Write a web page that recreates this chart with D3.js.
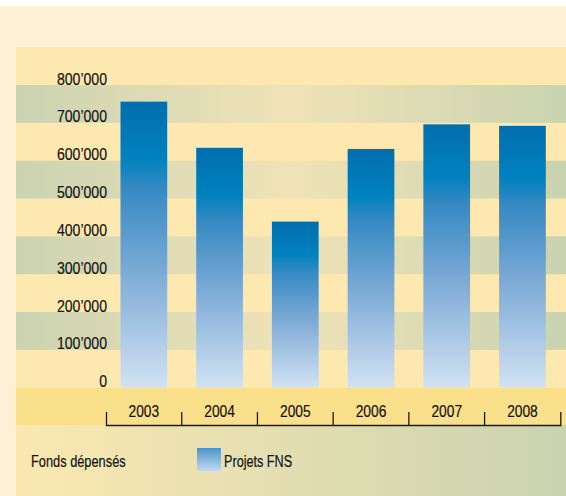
<!DOCTYPE html>
<html>
<head>
<meta charset="utf-8">
<script src="https://cdn.jsdelivr.net/npm/d3@7"></script>
<style>
  html, body { margin: 0; padding: 0; background: #ffffff; }
  svg { display: block; }
  text { font-family: "Liberation Sans Narrow", "Arial Narrow", "Liberation Sans", Arial, sans-serif; fill: #141414; stroke: #141414; stroke-width: 0.2px; }
</style>
</head>
<body>
<script>
// ---- data ----
const years = ["2003", "2004", "2005", "2006", "2007", "2008"];
const projetsFNS = [756000, 634000, 439000, 631000, 696000, 692000];
const yTicks = [0, 100000, 200000, 300000, 400000, 500000, 600000, 700000, 800000];
const seriesName = "Projets FNS";
const legendTitle = "Fonds dépensés";

const W = 566, H = 496;
const FS = 16;
const svg = d3.select("body").append("svg").attr("width", W).attr("height", H);
const defs = svg.append("defs");

// condense text horizontally (reference uses a condensed face)
function condense(sel, k) {
  sel.each(function () {
    const n = this.getComputedTextLength();
    d3.select(this).attr("textLength", n * k).attr("lengthAdjust", "spacingAndGlyphs");
  });
}

// gradients
const gBar = defs.append("linearGradient").attr("id", "gBar").attr("x1", 0).attr("y1", 0).attr("x2", 0).attr("y2", 1);
[[0, "#026eae"], [0.2, "#0082be"], [0.3, "#3589c3"], [0.6, "#7eabd6"], [1, "#d2e2f3"]]
  .forEach(([o, c]) => gBar.append("stop").attr("offset", o).attr("stop-color", c));
const gLeg = defs.append("linearGradient").attr("id", "gLeg").attr("x1", 0).attr("y1", 0).attr("x2", 0).attr("y2", 1);
[[0, "#4894cb"], [1, "#c4daf0"]].forEach(([o, c]) => gLeg.append("stop").attr("offset", o).attr("stop-color", c));
const gBand = defs.append("linearGradient").attr("id", "gBand").attr("x1", 0).attr("y1", 0).attr("x2", 1).attr("y2", 0);
[[0, "#cbd3b1"], [0.5, "#f0e3b7"], [1, "#c9d3b0"]].forEach(([o, c]) => gBand.append("stop").attr("offset", o).attr("stop-color", c));
const gFoot = defs.append("linearGradient").attr("id", "gFoot").attr("x1", 0).attr("y1", 0).attr("x2", 1).attr("y2", 0);
[[0, "#fbe8b1"], [1, "#cad3b0"]].forEach(([o, c]) => gFoot.append("stop").attr("offset", o).attr("stop-color", c));

// scales
const panelL = 16, panelT = 47, axisY = 425;
const y = d3.scaleLinear().domain([0, 800000]).range([387.7, 85]);
const x = d3.scaleBand().domain(years).range([106, 560.3]).paddingInner(0.383).paddingOuter(0.1915);

// backgrounds
svg.append("rect").attr("x", 0).attr("y", 6).attr("width", W).attr("height", H - 6).attr("fill", "#fdf0d7");
svg.append("rect").attr("x", panelL).attr("y", panelT).attr("width", W - panelL).attr("height", y(0) - panelT).attr("fill", "#fde8b0");
const bandPairs = d3.pairs(yTicks).filter((d, i) => i % 2 === 1);
svg.append("g").selectAll("rect").data(bandPairs).join("rect")
  .attr("x", panelL).attr("width", W - panelL)
  .attr("y", d => y(d[1])).attr("height", d => y(d[0]) - y(d[1]))
  .attr("fill", "url(#gBand)");
svg.append("rect").attr("x", panelL).attr("y", y(0)).attr("width", W - panelL).attr("height", axisY - y(0)).attr("fill", "#fbe08b");
svg.append("rect").attr("x", panelL).attr("y", axisY).attr("width", W - panelL).attr("height", H - axisY).attr("fill", "url(#gFoot)");

// bars
svg.append("g").selectAll("rect").data(projetsFNS).join("rect")
  .attr("x", (d, i) => x(years[i]))
  .attr("width", x.bandwidth())
  .attr("y", d => y(d))
  .attr("height", d => y(0) - y(d))
  .attr("fill", "url(#gBar)");

// y labels
const fmt = d3.formatLocale({ decimal: ".", thousands: "’", grouping: [3], currency: ["", ""] }).format(",");
const yAxis = svg.append("g").attr("transform", "translate(107,0)")
  .call(d3.axisLeft(y).tickValues(yTicks).tickFormat(fmt).tickSize(0).tickPadding(0));
yAxis.select(".domain").remove();
yAxis.selectAll("text").attr("font-family", null).attr("font-size", FS).attr("dy", "-0.06em").attr("fill", null)
  .call(condense, 0.88);

// x axis
const xAxis = svg.append("g").attr("transform", `translate(0,${axisY})`)
  .call(d3.axisTop(x).tickSize(0).tickSizeOuter(13).tickPadding(8.5));
xAxis.select(".domain").attr("stroke", "#1a1a1a").attr("stroke-width", 1.3);
xAxis.selectAll("text").attr("font-family", null).attr("font-size", FS).attr("fill", null)
  .call(condense, 0.86);
const step = x.step();
const inner = years.slice(1).map(yr => x(yr) - x.paddingInner() * step / 2);
xAxis.selectAll(".bnd").data(inner).join("line").attr("class", "bnd")
  .attr("x1", d => d).attr("x2", d => d).attr("y1", 0).attr("y2", -13)
  .attr("stroke", "#1a1a1a").attr("stroke-width", 1.3);

// legend
svg.append("text").attr("x", 31).attr("y", 467).attr("font-size", FS).text(legendTitle).call(condense, 0.8);
svg.append("rect").attr("x", 197).attr("y", 448).attr("width", 24).attr("height", 23).attr("fill", "url(#gLeg)");
svg.append("text").attr("x", 224).attr("y", 467).attr("font-size", FS).text(seriesName).call(condense, 0.79);
</script>
</body>
</html>
